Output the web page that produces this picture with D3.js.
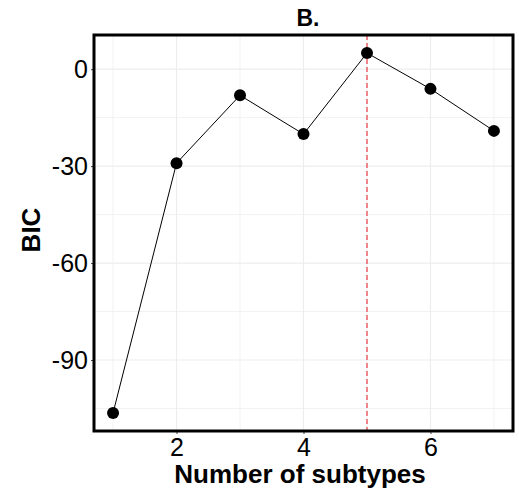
<!DOCTYPE html>
<html>
<head>
<meta charset="utf-8">
<script src="https://cdn.jsdelivr.net/npm/d3@7"></script>
<style>
  body { margin: 0; background: #fff; }
  text { font-family: "Liberation Sans", Arial, sans-serif; }
</style>
</head>
<body>
<div id="chart"></div>
<script>
// BIC per number of subtypes
var subtypes = [1, 2, 3, 4, 5, 6, 7];
var bicValues = [-106.4, -29.1, -8.1, -20.1, 5.0, -6.1, -19.1];
var bestK = 5;
var yTicks = [0, -30, -60, -90];
var xTicks = [2, 4, 6];

var width = 519, height = 498;
var margin = {top: 35, right: 6, bottom: 67, left: 94};

var svg = d3.select("#chart").append("svg")
    .attr("width", width)
    .attr("height", height);

// ggplot-style 5% expansion on both axes
var xr = d3.extent(subtypes), xpad = (xr[1] - xr[0]) * 0.05;
var yr = d3.extent(bicValues), ypad = (yr[1] - yr[0]) * 0.05;

let x = d3.scaleLinear()
    .domain([xr[0] - xpad, xr[1] + xpad])
    .range([margin.left, width - margin.right]);
let y = d3.scaleLinear()
    .domain([yr[0] - ypad, yr[1] + ypad])
    .range([height - margin.bottom, margin.top]);

var grid = svg.append("g");

// minor gridlines (odd x, midpoints in y)
grid.selectAll(".xminor")
    .data([1, 3, 5, 7])
  .enter().append("line")
    .attr("x1", d => x(d)).attr("x2", d => x(d))
    .attr("y1", margin.top).attr("y2", height - margin.bottom)
    .attr("stroke", "#f2f2f2").attr("stroke-width", 1);
grid.selectAll(".yminor")
    .data([-15, -45, -75, -105])
  .enter().append("line")
    .attr("x1", margin.left).attr("x2", width - margin.right)
    .attr("y1", d => y(d)).attr("y2", d => y(d))
    .attr("stroke", "#f2f2f2").attr("stroke-width", 1);

// major gridlines
grid.selectAll(".xmajor")
    .data(xTicks)
  .enter().append("line")
    .attr("x1", d => x(d)).attr("x2", d => x(d))
    .attr("y1", margin.top).attr("y2", height - margin.bottom)
    .attr("stroke", "#ededed").attr("stroke-width", 1.2);
grid.selectAll(".ymajor")
    .data(yTicks)
  .enter().append("line")
    .attr("x1", margin.left).attr("x2", width - margin.right)
    .attr("y1", d => y(d)).attr("y2", d => y(d))
    .attr("stroke", "#ededed").attr("stroke-width", 1.2);

// axes (plain hyphen minus like the original)
var fmt = d => String(d);

svg.append("g")
    .attr("transform", "translate(0," + (height - margin.bottom) + ")")
    .call(d3.axisBottom(x).tickValues(xTicks).tickFormat(fmt).tickSize(3).tickPadding(4))
    .call(g => g.select(".domain").remove())
    .call(g => g.selectAll("line").attr("stroke", "#444"))
    .call(g => g.selectAll("text").attr("fill", "#000").style("font-size", "25px"));

svg.append("g")
    .attr("transform", "translate(" + margin.left + ",0)")
    .call(d3.axisLeft(y).tickValues(yTicks).tickFormat(fmt).tickSize(3).tickPadding(3))
    .call(g => g.select(".domain").remove())
    .call(g => g.selectAll("line").attr("stroke", "#444"))
    .call(g => g.selectAll("text").attr("fill", "#000").style("font-size", "25px"));

// dashed line at chosen number of subtypes
svg.append("line")
    .attr("x1", x(bestK)).attr("x2", x(bestK))
    .attr("y1", margin.top).attr("y2", height - margin.bottom)
    .attr("stroke", "#e8474a")
    .attr("stroke-width", 1.3)
    .attr("stroke-dasharray", "5,3");

// line + points
var line = d3.line()
    .x((d, i) => x(subtypes[i]))
    .y(d => y(d));

svg.append("path")
    .datum(bicValues)
    .attr("d", line)
    .attr("fill", "none")
    .attr("stroke", "#000")
    .attr("stroke-width", 1);

svg.selectAll(".pt")
    .data(bicValues)
  .enter().append("circle")
    .attr("cx", (d, i) => x(subtypes[i]))
    .attr("cy", d => y(d))
    .attr("r", 6)
    .attr("fill", "#000");

// panel border
svg.append("rect")
    .attr("x", margin.left)
    .attr("y", margin.top)
    .attr("width", width - margin.left - margin.right)
    .attr("height", height - margin.top - margin.bottom)
    .attr("fill", "none")
    .attr("stroke", "#000")
    .attr("stroke-width", 3);

// titles
svg.append("text")
    .attr("x", 308)
    .attr("y", 26)
    .attr("text-anchor", "middle")
    .style("font-size", "23px")
    .style("font-weight", "bold")
    .text("B.");

svg.append("text")
    .attr("x", 300)
    .attr("y", 483)
    .attr("text-anchor", "middle")
    .style("font-size", "26px")
    .style("font-weight", "bold")
    .text("Number of subtypes");

svg.append("text")
    .attr("transform", "translate(40,230) rotate(-90)")
    .attr("text-anchor", "middle")
    .style("font-size", "26px")
    .style("font-weight", "bold")
    .text("BIC");
</script>
</body>
</html>
